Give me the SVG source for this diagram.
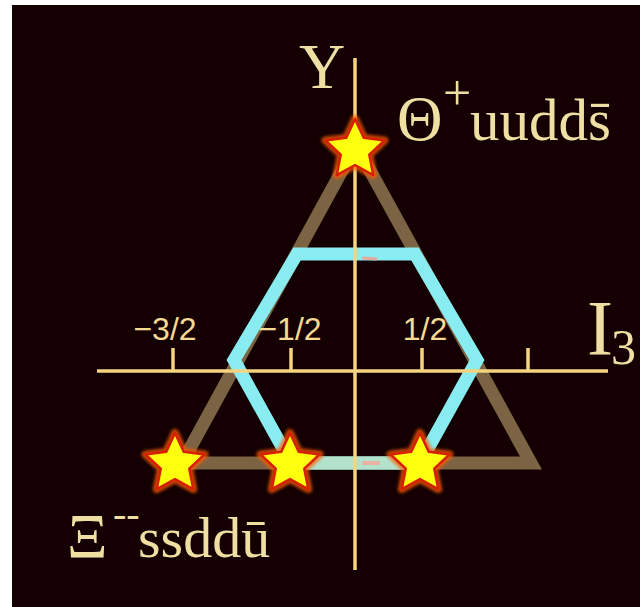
<svg xmlns="http://www.w3.org/2000/svg" width="640" height="607" viewBox="0 0 640 607">
<style>
.ax{stroke:#f6d47f;stroke-width:3.5;fill:none}
.tri{stroke:#7b6343;stroke-width:13;fill:none;stroke-linejoin:miter}
.hex{stroke:#88ecf0;stroke-width:13;fill:none;stroke-linejoin:miter}
.lbl{font-family:"Liberation Serif",serif;fill:#f0dfa2}
.frac{font-family:"Liberation Sans",sans-serif;font-size:32px;fill:#f5da92;text-anchor:middle}
.glow{fill:none;stroke:#ff5a00;stroke-width:8;stroke-linejoin:round;opacity:0.75}
.star{fill:#ffff10;stroke:#d82000;stroke-width:2.5;stroke-linejoin:round}
</style>
<defs>
<filter id="bl" x="-30%" y="-30%" width="160%" height="160%"><feGaussianBlur stdDeviation="1.5"/></filter>
<path id="sp" d="M0,-31 L8.82,-12.14 L29.48,-9.58 L14.27,4.64 L18.22,25.08 L0,15 L-18.22,25.08 L-14.27,4.64 L-29.48,-9.58 L-8.82,-12.14 Z"/>
</defs>
<rect x="0" y="0" width="640" height="607" fill="#ffffff"/>
<rect x="12" y="5" width="628" height="602" fill="#140002"/>
<g id="connectors">
<polygon class="tri" points="356,145 182,463 531,463"/>
<polygon class="hex" points="297,254 415,254 477,360 420,463 291,463 234,360"/>
<line x1="291" y1="463" x2="420" y2="463" stroke="#b3e2cc" stroke-width="13"/>
<line x1="362" y1="258" x2="377" y2="259" stroke="#e6a79c" stroke-width="3"/>
<line x1="362" y1="463" x2="380" y2="463" stroke="#e9b3a4" stroke-width="4"/>
<line class="ax" x1="355" y1="58" x2="355" y2="570"/>
<line class="ax" x1="97" y1="371" x2="608" y2="371"/>
<line class="ax" x1="173" y1="348" x2="173" y2="371"/>
<line class="ax" x1="291" y1="348" x2="291" y2="371"/>
<line class="ax" x1="422" y1="348" x2="422" y2="371"/>
<line class="ax" x1="528" y1="348" x2="528" y2="371"/>
</g>
<g id="axis-labels">
<text class="lbl" x="299" y="88" font-size="64">Y</text>
<text class="lbl" x="587" y="354" font-size="78">I</text>
<text class="lbl" x="611" y="364" font-size="50">3</text>
<text class="frac" x="165" y="340">−3/2</text>
<text class="frac" x="290" y="340">−1/2</text>
<text class="frac" x="425" y="340">1/2</text>
</g>
<g id="theta">
<use href="#sp" class="glow" filter="url(#bl)" x="355" y="150"/>
<use href="#sp" class="star" x="355" y="150"/>
<text class="lbl" x="397" y="140" font-size="63">Θ</text>
<text class="lbl" x="443" y="110" font-size="50">+</text>
<text class="lbl" x="470" y="140" font-size="59">uudds̄</text>
</g>
<g id="xi">
<use href="#sp" class="glow" filter="url(#bl)" x="175" y="464"/>
<use href="#sp" class="star" x="175" y="464"/>
<text class="lbl" x="67" y="558" font-size="63">Ξ</text>
<text class="lbl" x="113" y="527" font-size="40">--</text>
<text class="lbl" x="138" y="557" font-size="58">ssddū</text>
</g>
<g id="star-2">
<use href="#sp" class="glow" filter="url(#bl)" x="290" y="464"/>
<use href="#sp" class="star" x="290" y="464"/>
</g>
<g id="star-3">
<use href="#sp" class="glow" filter="url(#bl)" x="420" y="464"/>
<use href="#sp" class="star" x="420" y="464"/>
</g>
</svg>
